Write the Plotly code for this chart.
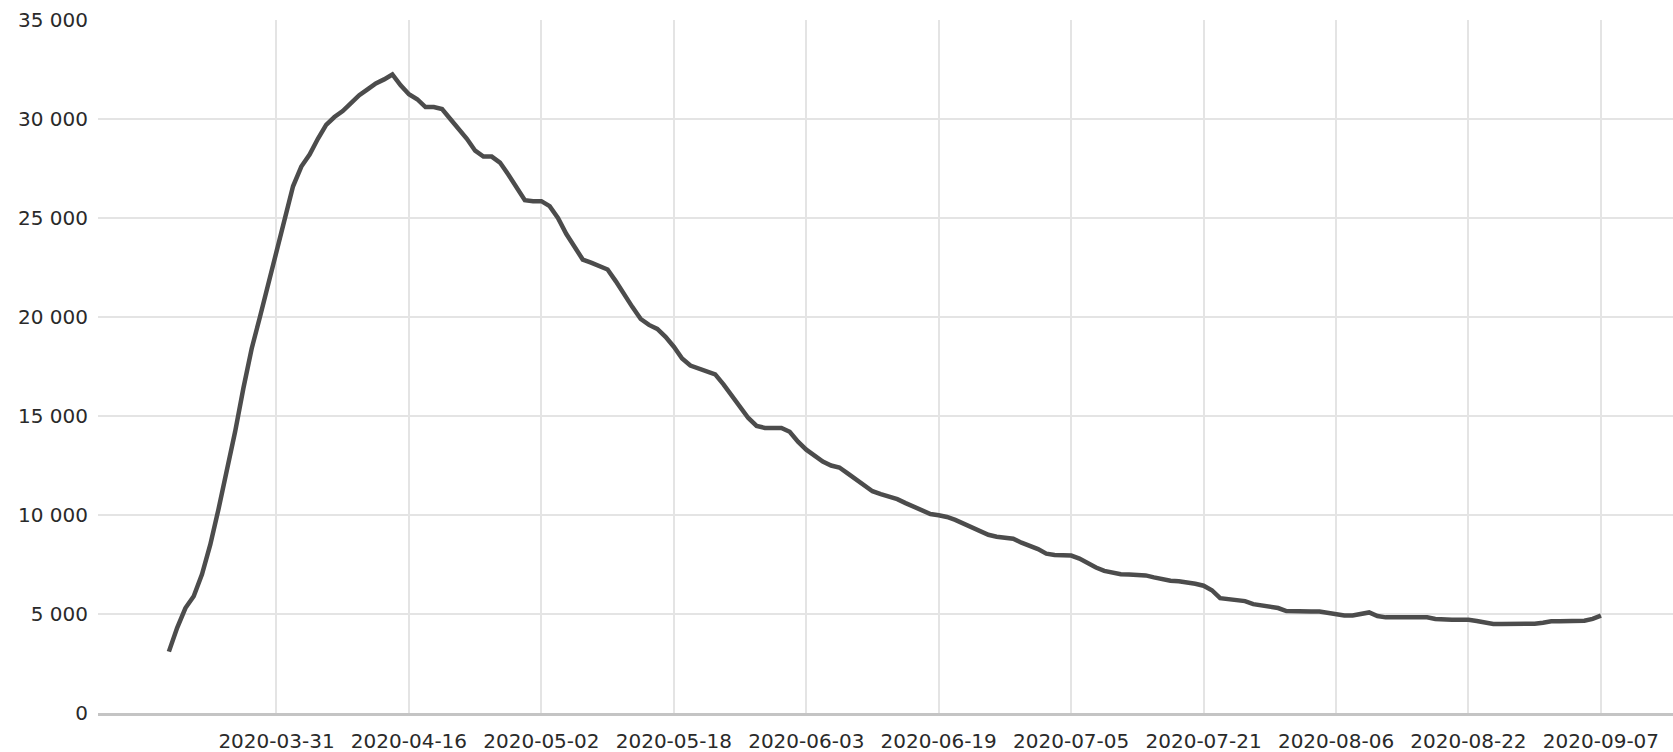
import datetime as dt
import plotly.graph_objects as go

start_date = "2020-03-18"
values = [
    3100, 4300, 5300, 5900, 7000, 8500, 10300, 12200, 14200, 16400,
    18400, 20000, 21700, 23200, 25000, 26600, 27600, 28200, 29000, 29700,
    30100, 30400, 30800, 31200, 31500, 31800, 32000, 32250, 31700, 31250,
    31000, 30600, 30600, 30500, 30000, 29500, 29000, 28400, 28100, 28100,
    27800, 27200, 26500, 25900, 25850, 25850, 25600, 25000, 24200, 23500,
    22900, 22750, 22600, 22400, 21800, 21100, 20500, 19900, 19600, 19400,
    19000, 18500, 17900, 17550, 17400, 17250, 17100, 16600, 16000, 15400,
    14900, 14500, 14400, 14400, 14400, 14200, 13700, 13300, 13000, 12700,
    12500, 12400, 12100, 11800, 11500, 11200, 11050, 10950, 10800, 10600,
    10400, 10200, 10050, 9990, 9900, 9750, 9550, 9350, 9200, 9000,
    8900, 8850, 8800, 8600, 8450, 8280, 8050, 7980, 7970, 7950,
    7800, 7550, 7350, 7180, 7080, 7010, 7000, 7000, 6950, 6850,
    6750, 6680, 6650, 6600, 6530, 6430, 6200, 5800, 5750, 5720,
    5650, 5500, 5420, 5350, 5300, 5150, 5130, 5130, 5130, 5130,
    5050, 4950, 4920, 4920, 5000, 5080, 4900, 4830, 4830, 4830,
    4830, 4830, 4830, 4750, 4710, 4710, 4710, 4710, 4650, 4560,
    4500, 4500, 4500, 4500, 4500, 4510, 4560, 4630, 4630, 4630,
    4630, 4660, 4750, 4920,
]
tick_dates = ["2020-03-31", "2020-04-16", "2020-05-02", "2020-05-18", "2020-06-03",
              "2020-06-19", "2020-07-05", "2020-07-21", "2020-08-06", "2020-08-22",
              "2020-09-07"]
y_ticks = [0, 5000, 10000, 15000, 20000, 25000, 30000, 35000]

d0 = dt.date.fromisoformat(start_date)
dates = [(d0 + dt.timedelta(days=i)).isoformat() for i in range(len(values))]

fig = go.Figure()
fig.add_trace(go.Scatter(
    x=dates, y=values, mode="lines",
    line=dict(color="#4c4c4c", width=4.5),
    hoverinfo="skip",
))

font = dict(family="DejaVu Sans, sans-serif", size=20, color="#2a2a2a")
fig.update_layout(
    width=1673, height=752,
    margin=dict(l=98, r=0, t=20, b=39),
    paper_bgcolor="white", plot_bgcolor="white",
    showlegend=False,
    separators=". ",
    font=font,
    xaxis=dict(
        type="date",
        range=["2020-03-09 10:30", "2020-09-15 17:00"],
        tickvals=tick_dates, ticktext=tick_dates,
        showgrid=True, gridcolor="#e4e4e4", gridwidth=1.5,
        ticks="outside", ticklen=8, tickcolor="rgba(0,0,0,0)",
        showline=True, linecolor="#c4c4c4", linewidth=3,
        zeroline=False,
    ),
    yaxis=dict(
        range=[0, 35000],
        tickvals=y_ticks, tickformat=",d",
        showgrid=True, gridcolor="#e4e4e4", gridwidth=1.5,
        zeroline=False, showline=False,
        ticks="outside", ticklen=5, tickcolor="rgba(0,0,0,0)",
    ),
)

fig.write_html(
    "out.html",
    config={"displayModeBar": False},
    post_script="document.body.style.margin='0';document.body.style.overflow='hidden';",
)
